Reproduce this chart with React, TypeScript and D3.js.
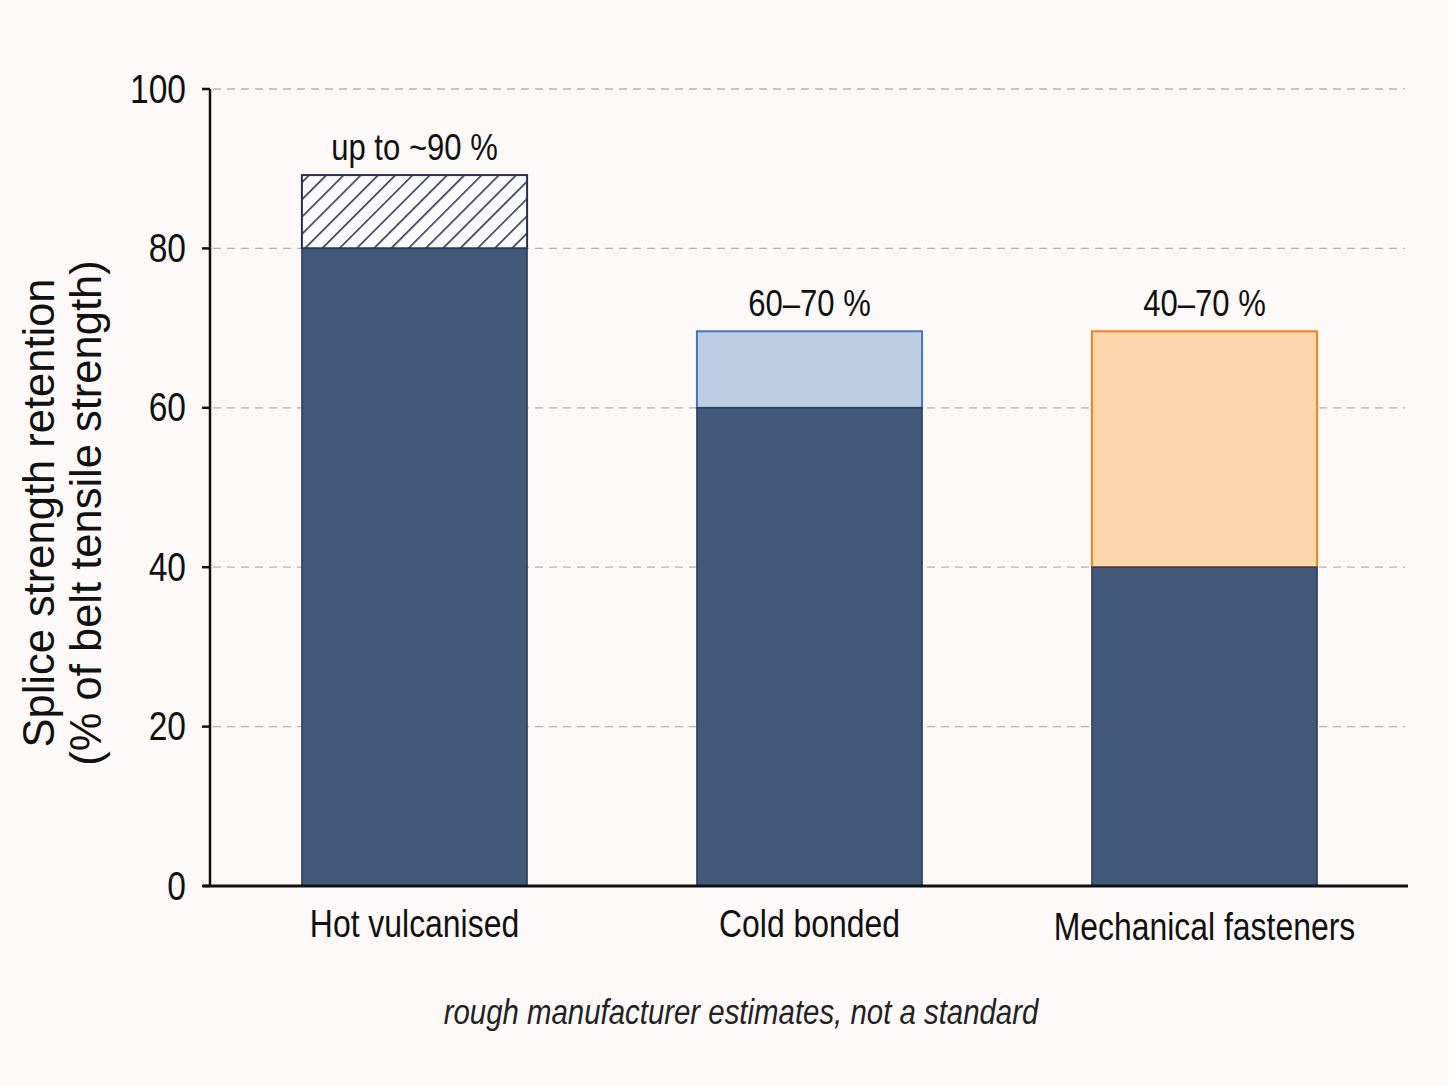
import * as d3 from 'd3';

const categories = ['Hot vulcanised', 'Cold bonded', 'Mechanical fasteners'];
const baseValues = [80, 60, 40];
const upperValues = [89.2, 69.6, 69.6];
const rangeLabels = ['up to ~90 %', '60–70 %', '40–70 %'];
const yTicks = [0, 20, 40, 60, 80, 100];

const W = 1448, H = 1086;
const sans = '"Liberation Sans", Arial, sans-serif';
const SQUEEZE = 0.84; // no narrow face installed, so condense Liberation Sans

// upper segment styles per category
const upperFill = ['url(#hatch)', '#bccde4', '#fdd5ac'];
const upperStroke = ['#27304f', '#4676b3', '#f0821e'];

function CText({ x, y, size, anchor = 'middle', italic = false, baseline, fill = '#111', children }: any) {
  return (
    <text transform={`translate(${x},${y}) scale(${SQUEEZE},1)`} textAnchor={anchor}
      dominantBaseline={baseline} fontFamily={sans} fontSize={size}
      fontStyle={italic ? 'italic' : 'normal'} fill={fill}>{children}</text>
  );
}

export default function App() {
  const x = d3.scaleBand<string>().domain(categories).range([217, 1402]).paddingInner(0.43).paddingOuter(0.215);
  const y = d3.scaleLinear().domain([0, 100]).range([886, 89]);
  const bw = x.bandwidth();

  return (
    <div style={{ position: 'absolute', left: 0, top: 0 }}>
      <svg width={W} height={H} style={{ display: 'block', background: '#fcf9f8' }}>
        <defs>
          <pattern id="hatch" patternUnits="userSpaceOnUse" width={12.2} height={12.2} patternTransform="rotate(45)">
            <rect width={12.2} height={12.2} fill="#fbfbfd" />
            <line x1={0.8} y1={0} x2={0.8} y2={12.2} stroke="#222c4c" strokeWidth={1.5} />
          </pattern>
        </defs>

        {/* gridlines */}
        {yTicks.filter(t => t > 0).map(t => (
          <line key={t} x1={213} x2={1405} y1={y(t)} y2={y(t)} stroke="#b3b2b9" strokeWidth={1.3} strokeDasharray="8 6" />
        ))}

        {/* bars */}
        {categories.map((c, i) => (
          <g key={c}>
            <rect x={x(c)} y={y(upperValues[i])} width={bw} height={y(baseValues[i]) - y(upperValues[i])}
              fill={upperFill[i]} stroke={upperStroke[i]} strokeWidth={2} />
            <rect x={x(c)} y={y(baseValues[i])} width={bw} height={y(0) - y(baseValues[i])}
              fill="#42597a" stroke="#2c3d5a" strokeWidth={1.5} />
            <CText x={x(c)! + bw / 2} y={y(upperValues[i]) - 15} size={37}>{rangeLabels[i]}</CText>
            <CText x={x(c)! + bw / 2} y={i === 2 ? 940 : 937} size={38}>{c}</CText>
          </g>
        ))}

        {/* axes */}
        <line x1={210} x2={210} y1={y(100)} y2={y(0)} stroke="#111" strokeWidth={2.5} />
        <line x1={203} x2={1408} y1={y(0)} y2={y(0)} stroke="#111" strokeWidth={3} />
        {yTicks.map(t => (
          <g key={t}>
            <line x1={202} x2={210} y1={y(t)} y2={y(t)} stroke="#111" strokeWidth={2.5} />
            <CText x={186} y={y(t)} size={40} anchor="end" baseline="central">{t}</CText>
          </g>
        ))}

        {/* y label */}
        <g transform="translate(0,513) rotate(-90)">
          <text x={0} y={54} textAnchor="middle" fontFamily={sans} fontSize={43.5} fill="#111">Splice strength retention</text>
          <text x={0} y={101} textAnchor="middle" fontFamily={sans} fontSize={43.5} fill="#111">(% of belt tensile strength)</text>
        </g>

        {/* footnote */}
        <CText x={741} y={1024} size={35} italic fill="#222">rough manufacturer estimates, not a standard</CText>
      </svg>
    </div>
  );
}
